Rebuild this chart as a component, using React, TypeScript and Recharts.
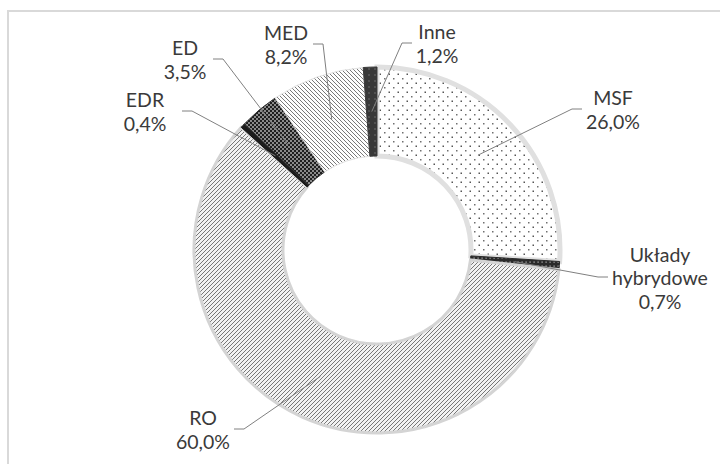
import { PieChart, Pie, Cell } from "recharts";

// shares of desalination technologies, clockwise from 12 o'clock
const categories = ["MSF", "Układy hybrydowe", "RO", "EDR", "ED", "MED", "Inne"];
const labelNames = [["MSF"], ["Układy", "hybrydowe"], ["RO"], ["EDR"], ["ED"], ["MED"], ["Inne"]];
const shares = [26.0, 0.7, 60.0, 0.4, 3.5, 8.2, 1.2];

const data = categories.map((name, i) => ({ name, value: shares[i] }));

// label block centre (dx, dy) relative to the pie centre, and where the leader stub leaves it
const labelPlacement = [
  { dx: 236, dy: -141, attach: -31 },
  { dx: 283, dy: 27, attach: -52 },
  { dx: -174, dy: 179, attach: 31 },
  { dx: -232, dy: -139, attach: 37 },
  { dx: -192, dy: -191, attach: 28 },
  { dx: -91, dy: -206, attach: 27 },
  { dx: 60, dy: -207, attach: -25 },
];

const fills = ["url(#pMSF)", "url(#pHyb)", "url(#pRO)", "#1c1c1c", "url(#pED)", "url(#pMED)", "url(#pInne)"];
const strokes = ["#e0e0e0", "#2a2a2a", "#d4d4d4", "#111111", "#333333", "#e2e2e2", "#3a3a3a"];
const strokeWidths = [5, 1, 3, 1, 1, 1, 1];

const RAD = Math.PI / 180;
const fmt = (v: number) => v.toFixed(1).replace(".", ",") + "%";

function renderLabel(p: any) {
  const { cx, cy, midAngle, innerRadius, outerRadius, index } = p;
  const place = labelPlacement[index];
  const r = (innerRadius + outerRadius) / 2;
  const px = cx + r * Math.cos(-midAngle * RAD);
  const py = cy + r * Math.sin(-midAngle * RAD);
  const tx = cx + place.dx;
  const ty = cy + place.dy;
  const ax = tx + place.attach;
  const ex = ax + (place.attach > 0 ? 10 : -10);
  const lines = [...labelNames[index], fmt(shares[index])];
  const first = ty + 19 - lines.length * 11.5;
  return (
    <g key={"lbl" + index}>
      <polyline
        points={`${ax},${ty} ${ex},${ty} ${px},${py}`}
        fill="none"
        stroke="#808080"
        strokeWidth={1}
      />
      <text x={tx} textAnchor="middle" fill="#3a3a3a" fontSize={19.5} fontFamily="Lato, 'Noto Sans', sans-serif">
        {lines.map((l, k) => (
          <tspan key={k} x={tx} y={first + k * 23.5}>
            {l}
          </tspan>
        ))}
      </text>
    </g>
  );
}

export default function App() {
  return (
    <div style={{ position: "absolute", left: 0, top: 0, width: 720, height: 464, overflow: "hidden", background: "#fff" }}>
      <div
        style={{
          position: "absolute",
          left: 7,
          top: 10,
          width: 780,
          height: 520,
          border: "2px solid #d9d9d9",
        }}
      />
      <div style={{ position: "absolute", left: 0, top: 0 }}>
        <PieChart width={720} height={464}>
          <defs>
            <pattern id="pMSF" width="9" height="9" patternUnits="userSpaceOnUse">
              <rect width="9" height="9" fill="#ffffff" />
              <rect x="1.5" y="1.5" width="1.5" height="1.5" fill="#555555" />
              <rect x="6" y="6" width="1.5" height="1.5" fill="#707070" />
            </pattern>
            <pattern id="pRO" width="4" height="4" patternUnits="userSpaceOnUse">
              <rect width="4" height="4" fill="#f2f2f2" />
              <path d="M-1,1 L1,-1 M0,4 L4,0 M3,5 L5,3" stroke="#777777" strokeWidth="1" />
            </pattern>
            <pattern id="pMED" width="4" height="4" patternUnits="userSpaceOnUse">
              <rect width="4" height="4" fill="#ffffff" />
              <path d="M-1,-1 L5,5 M-1,3 L1,5 M3,-1 L5,1" stroke="#6a6a6a" strokeWidth="0.9" />
            </pattern>
            <pattern id="pED" width="4" height="4" patternUnits="userSpaceOnUse">
              <rect width="4" height="4" fill="#8a8a8a" />
              <rect x="0" y="0" width="2" height="2" fill="#1e1e1e" />
              <rect x="2" y="2" width="2" height="2" fill="#1e1e1e" />
            </pattern>
            <pattern id="pHyb" width="4" height="4" patternUnits="userSpaceOnUse">
              <rect width="4" height="4" fill="#2a2a2a" />
              <rect x="1.5" y="1.5" width="1.2" height="1.2" fill="#bdbdbd" />
            </pattern>
            <pattern id="pInne" width="6" height="6" patternUnits="userSpaceOnUse">
              <rect width="6" height="6" fill="#383838" />
              <rect x="2.5" y="2.5" width="1" height="1" fill="#9a9a9a" />
            </pattern>
          </defs>
          <Pie
            data={data}
            dataKey="value"
            nameKey="name"
            cx={372}
            cy={245}
            innerRadius={94}
            outerRadius={183}
            startAngle={90}
            endAngle={-270}
            label={renderLabel}
            labelLine={false}
            isAnimationActive={false}
          >
            {data.map((d, i) => (
              <Cell key={d.name} fill={fills[i]} stroke={strokes[i]} strokeWidth={strokeWidths[i]} />
            ))}
          </Pie>
        </PieChart>
      </div>
    </div>
  );
}
